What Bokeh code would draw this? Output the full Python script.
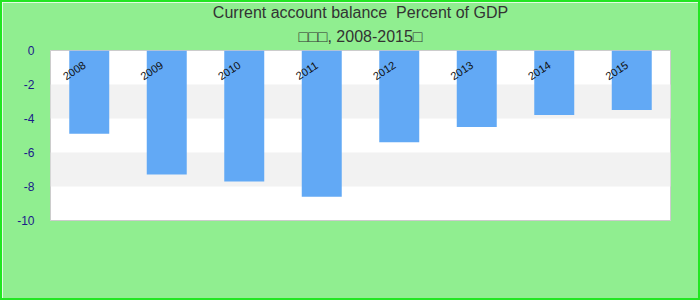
import math
from bokeh.plotting import figure
from bokeh.models import ColumnDataSource, FactorRange, Range1d, FixedTicker, Title
from bokeh.core.properties import value
from bokeh.embed import file_html
from bokeh.resources import INLINE

years = ["2008", "2009", "2010", "2011", "2012", "2013", "2014", "2015"]
balance = [-4.9, -7.3, -7.7, -8.6, -5.4, -4.5, -3.8, -3.5]
y_ticks = [-10, -8, -6, -4, -2, 0]
title_line1 = "Current account balance\u00a0 Percent of GDP"
title_line2 = "\u25a1\u25a1\u25a1, 2008-2015\u25a1"

src = ColumnDataSource(dict(year=years, val=balance, base=[0] * len(years)))

p = figure(width=700, height=300, output_backend="svg", toolbar_location=None,
           x_range=FactorRange(*years, range_padding=0), y_range=Range1d(-10, 0),
           min_border_left=48, min_border_right=32, min_border_top=48, min_border_bottom=82)
p.styles = {"border": "2px solid #22e622", "box-sizing": "border-box"}

def make_title(txt, standoff):
    return Title(text=txt, align="center", text_font="Liberation Sans",
                 text_font_size="16px", text_font_style="normal", text_color="#333333",
                 standoff=standoff, offset=0)

p.add_layout(make_title(title_line2, 12), "above")
p.add_layout(make_title(title_line1, -2), "above")

p.border_fill_color = "#90ee90"
p.background_fill_color = "#ffffff"
p.outline_line_color = "#cccccc"
p.outline_line_width = 1

p.vbar(x="year", top="val", bottom="base", width=0.516, source=src,
       fill_color="#62a9f5", line_color=None)

p.text(x="year", y="base", text="year", source=src, angle=math.radians(33),
       text_align="center", text_baseline="middle", x_offset=-15, y_offset=20,
       text_font=value("Liberation Sans"), text_font_size="11px", text_color="#111111")

p.xaxis.visible = False
p.xgrid.grid_line_color = None
p.ygrid.grid_line_color = None
p.ygrid.band_fill_color = "#f2f2f2"
p.ygrid.band_fill_alpha = 1
p.yaxis.ticker = FixedTicker(ticks=y_ticks)
p.yaxis.major_label_overrides = {t: str(t) for t in y_ticks}
p.yaxis.axis_line_color = None
p.yaxis.major_tick_line_color = None
p.yaxis.minor_tick_line_color = None
p.yaxis.major_label_text_color = "#1a1a8a"
p.yaxis.major_label_text_font = "Liberation Sans"
p.yaxis.major_label_text_font_size = "12px"
p.yaxis.major_label_standoff = 10

open("out.html", "w").write(file_html(p, INLINE))
